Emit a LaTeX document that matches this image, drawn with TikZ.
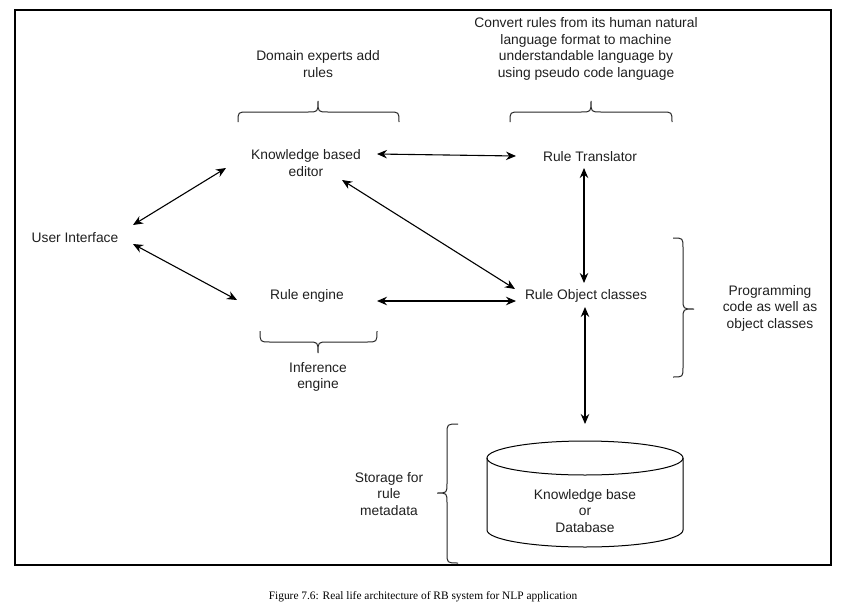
\documentclass[tikz,border=0pt]{standalone}
\usepackage{fontspec}
\setmainfont{Liberation Sans}
\newfontfamily\capfont{Liberation Serif}
\usetikzlibrary{arrows.meta}
\begin{document}
\begin{tikzpicture}[x=1pt,y=-1pt,
  lbl/.style={align=center,inner sep=0pt,text=black!88,font=\fontsize{13.8}{16.5}\selectfont},
  conn/.style={line width=1.1pt,{Stealth[length=10pt,width=8.5pt]}-{Stealth[length=10pt,width=8.5pt]}},
  brc/.style={line width=1pt,black!85},
  frame/.style={line width=2.2pt}]
\useasboundingbox (0,0) rectangle (849,608);
\draw[frame] (15,10) rectangle (831,565);

% main nodes
\node[lbl] (ui) at (75,238) {User Interface};
\node[lbl] (kbe) at (306,163) {Knowledge based\\editor};
\node[lbl] (rt) at (590,157) {Rule Translator};
\node[lbl] (re) at (307,296) {Rule engine};
\node[lbl] (roc) at (586,296) {Rule Object classes};

% annotation texts
\node[lbl] (dom) at (318,64) {Domain experts add\\rules};
\node[lbl] (conv) at (586,49) {Convert rules from its human natural\\language format to machine\\understandable language by\\using pseudo code language};
\node[lbl] (inf) at (318,377) {Inference\\engine};
\node[lbl] (prog) at (770,308) {Programming\\code as well as\\object classes};
\node[lbl] (stor) at (389,494) {Storage for\\rule\\metadata};

% cylinder
\draw[line width=1pt,fill=white] (487,458) -- (487,530) arc[start angle=180,end angle=0,x radius=98,y radius=17] -- (683,458);
\draw[line width=1pt] (585,458) ellipse[x radius=98,y radius=17];
\node[lbl] (db) at (585,511) {Knowledge base\\or\\Database};

% braces
\draw[brc] (238,122) .. controls (238,112) .. (248,112) -- (308,112) .. controls (318,112) .. (318,101)
  .. controls (318,112) .. (328,112) -- (389,112) .. controls (399,112) .. (399,122);
\draw[brc] (510,122) .. controls (510,112) .. (520,112) -- (581,112) .. controls (591,112) .. (591,101)
  .. controls (591,112) .. (601,112) -- (662,112) .. controls (672,112) .. (672,122);
\draw[brc] (260,331) .. controls (260,342) .. (270,342) -- (308,342) .. controls (318,342) .. (318,353)
  .. controls (318,342) .. (328,342) -- (367,342) .. controls (377,342) .. (377,331);
\draw[brc] (673,238) .. controls (683,238) .. (683,248) -- (683,299) .. controls (683,309) .. (694,309)
  .. controls (683,309) .. (683,319) -- (683,367) .. controls (683,377) .. (673,377);
\draw[brc] (458,424) .. controls (447,424) .. (447,434) -- (447,483) .. controls (447,493) .. (437,493)
  .. controls (447,493) .. (447,503) -- (447,553) .. controls (447,563) .. (458,563);

% connector end points
\coordinate (a1) at (133,225); \coordinate (a2) at (226,168);
\coordinate (b1) at (133,244); \coordinate (b2) at (237,300);
\coordinate (c1) at (377,154); \coordinate (c2) at (516,156);
\coordinate (d1) at (342,180); \coordinate (d2) at (515,289);
\coordinate (e1) at (377,301); \coordinate (e2) at (516,301);
\coordinate (f1) at (584,168); \coordinate (f2) at (584,283);
\coordinate (g1) at (585,307); \coordinate (g2) at (585,424);

\draw[conn] (a1) -- (a2);
\draw[conn] (b1) -- (b2);
\draw[conn] (c1) -- (c2);
\draw[conn] (d1) -- (d2);
\draw[conn] (e1) -- (e2);
\draw[conn] (f1) -- (f2);
\draw[conn] (g1) -- (g2);

\node[inner sep=0pt,font=\capfont\fontsize{11.4}{13}\selectfont] (cap) at (423,597) {Figure 7.6: Real life architecture of RB system for NLP application};
\end{tikzpicture}
\end{document}
